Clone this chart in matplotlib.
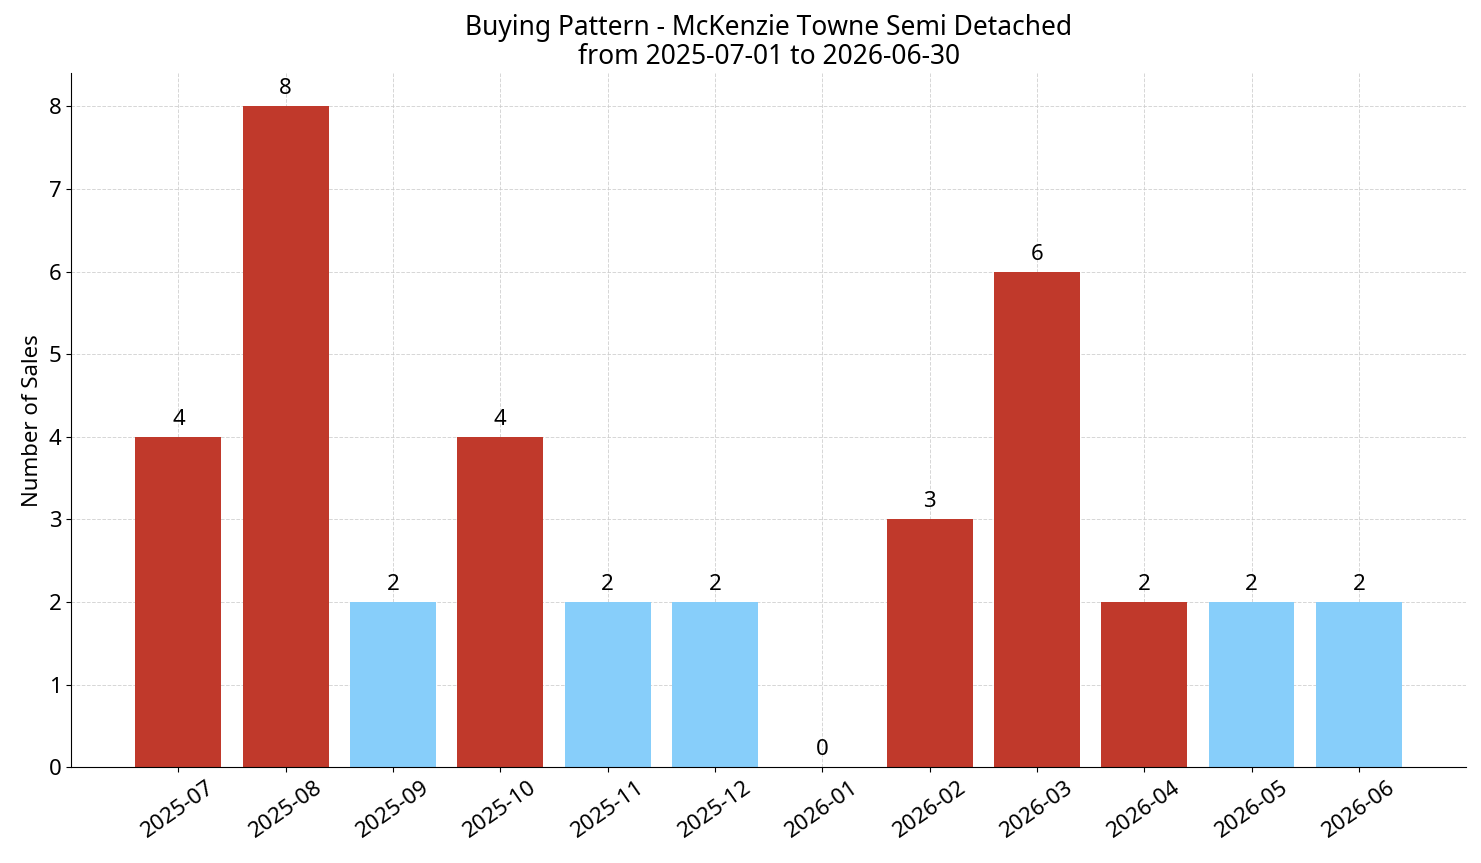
import matplotlib
matplotlib.use("Agg")
import matplotlib.pyplot as plt
import numpy as np

months = ["2025-07", "2025-08", "2025-09", "2025-10", "2025-11", "2025-12",
          "2026-01", "2026-02", "2026-03", "2026-04", "2026-05", "2026-06"]
sales = [4, 8, 2, 4, 2, 2, 0, 3, 6, 2, 2, 2]
hot = [True, True, False, True, False, False, False, True, True, True, False, False]

RED = "#c0392b"
BLUE = "#87cefa"

plt.rcParams['font.family'] = ['Noto Sans', 'DejaVu Sans']

fig, ax = plt.subplots(figsize=(14.81, 8.63), dpi=100)
x = np.arange(len(months))
colors = [RED if h else BLUE for h in hot]
bars = ax.bar(x, sales, width=0.8, color=colors, zorder=2)

for xi, v in zip(x, sales):
    ax.annotate(str(v), (xi, v), xytext=(0, 5), textcoords="offset points",
                ha="center", va="bottom", fontsize=16)

ax.set_xticks(x)
ax.set_xticklabels(months, rotation=35, ha="center", fontsize=16)
ax.tick_params(axis="y", labelsize=16)
ax.set_xlim(-1, 12)
ax.set_ylim(0, 8.4)
ax.set_ylabel("Number of Sales", fontsize=16)
ax.set_title("Buying Pattern - McKenzie Towne Semi Detached\nfrom 2025-07-01 to 2026-06-30",
             fontsize=19, linespacing=1.05, pad=7)
ax.grid(True, linestyle="--", color="#cccccc", linewidth=0.7, alpha=0.8, zorder=0)
ax.spines["top"].set_visible(False)
ax.spines["right"].set_visible(False)

fig.subplots_adjust(left=0.048, right=0.99, top=0.915, bottom=0.111)
fig.savefig("out.png", dpi=100)
